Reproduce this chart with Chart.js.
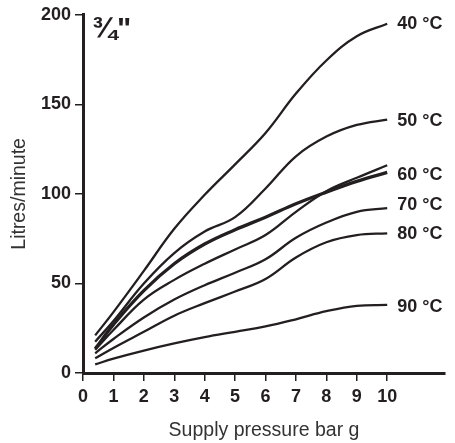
<!DOCTYPE html>
<html>
<head>
<meta charset="utf-8">
<script src="https://cdn.jsdelivr.net/npm/chart.js@4/dist/chart.umd.min.js"></script>
<style>
  html, body { margin: 0; padding: 0; background: #fff; }
  #wrap { width: 455px; height: 443px; }
</style>
</head>
<body>
<div id="wrap"><canvas id="flowChart"></canvas></div>
<script>
// supply pressure (bar g) and flow (litres/minute) per water temperature
const pressure = [0.4, 1, 2, 3, 4, 5, 6, 7, 8, 9, 10];
const flow40 = [21, 34, 57, 80.5, 99.5, 116.5, 134, 156, 174.5, 188, 195];
const flow50 = [17.5, 29, 50, 67, 79, 87, 103, 121, 132, 138.5, 141.5];
const flow60a = [13.5, 27, 46, 61, 72, 80, 87, 94.5, 101, 107, 112];
const flow60b = [13, 24, 41, 52, 61, 69, 77, 90, 101.5, 109, 116];
const flow70 = [11, 19, 31, 41, 49, 56, 63.5, 75.5, 84, 90, 92];
const flow80 = [8.2, 14, 23, 32, 39, 45.5, 52.5, 64.5, 73, 77, 78];
const flow90 = [4.8, 8, 12.5, 16.5, 20, 23, 26, 30, 34.5, 37.5, 38];
const xTicks = [0, 1, 2, 3, 4, 5, 6, 7, 8, 9, 10];
const yTicks = [0, 50, 100, 150, 200];
const sizeLabel = '\u00BE"';

const ink = '#231f20';
const fontFamily = '"Liberation Sans", Arial, sans-serif';

function series(label, values, width, tag) {
  return {
    label: label,
    tag: tag,
    data: values.map((v, i) => ({ x: pressure[i], y: v })),
    borderColor: ink,
    borderWidth: width,
    pointRadius: 0,
    fill: false,
    tension: 0.4
  };
}

// text at the right-hand end of each curve
const endLabels = {
  id: 'endLabels',
  afterDatasetsDraw(chart) {
    const { ctx, scales } = chart;
    ctx.save();
    ctx.fillStyle = ink;
    ctx.font = 'bold 18px ' + fontFamily;
    ctx.textBaseline = 'middle';
    ctx.textAlign = 'left';
    const offsets = { '40 °C': 0, '50 °C': 1.5, '60 °C': 3, '70 °C': -3, '80 °C': 0.5, '90 °C': 2 };
    chart.data.datasets.forEach(ds => {
      if (!ds.tag) return;
      const last = ds.data[ds.data.length - 1];
      const x = scales.x.getPixelForValue(last.x) + 10;
      const y = scales.y.getPixelForValue(last.y) + (offsets[ds.tag] || 0);
      ctx.fillText(ds.tag, x, y);
    });
    ctx.font = 'bold 30px ' + fontFamily;
    ctx.textBaseline = 'alphabetic';
    ctx.fillText(sizeLabel, chart.chartArea.left + 9, chart.chartArea.top + 23);
    ctx.restore();
  }
};

new Chart(document.getElementById('flowChart'), {
  type: 'line',
  data: {
    datasets: [
      series('40', flow40, 2.3, '40 °C'),
      series('50', flow50, 2.3, '50 °C'),
      series('60a', flow60a, 3.3, '60 °C'),
      series('60b', flow60b, 2.3, null),
      series('70', flow70, 2.3, '70 °C'),
      series('80', flow80, 2.3, '80 °C'),
      series('90', flow90, 2.3, '90 °C')
    ]
  },
  options: {
    responsive: true,
    maintainAspectRatio: false,
    animation: false,
    layout: { padding: { left: 0, top: 14, right: 10, bottom: 0 } },
    plugins: { legend: { display: false }, tooltip: { enabled: false } },
    scales: {
      x: {
        type: 'linear',
        min: 0,
        max: 11.9,
        afterBuildTicks: s => { s.ticks = xTicks.map(v => ({ value: v })); },
        afterFit: s => { s.height = 70; },
        border: { display: true, color: ink, width: 3 },
        grid: { drawOnChartArea: false, drawTicks: true, tickLength: 8, color: ink, lineWidth: 1.5 },
        ticks: { color: ink, padding: 5, maxRotation: 0, font: { family: fontFamily, size: 18, weight: 'bold' } },
        title: {
          display: true,
          text: 'Supply pressure bar g',
          color: '#333',
          padding: { top: 0, bottom: 1 },
          font: { family: fontFamily, size: 19.5 }
        }
      },
      y: {
        min: 0,
        max: 200,
        afterBuildTicks: s => { s.ticks = yTicks.map(v => ({ value: v })); },
        afterFit: s => { s.width = 83; },
        border: { display: true, color: ink, width: 3 },
        grid: { drawOnChartArea: false, drawTicks: true, tickLength: 8, color: ink, lineWidth: 1.5 },
        ticks: { color: ink, padding: 4, font: { family: fontFamily, size: 18, weight: 'bold' } },
        title: {
          display: true,
          text: 'Litres/minute',
          color: '#333',
          padding: { top: 8, bottom: 0 },
          font: { family: fontFamily, size: 19.5 }
        }
      }
    }
  },
  plugins: [endLabels]
});
</script>
</body>
</html>
